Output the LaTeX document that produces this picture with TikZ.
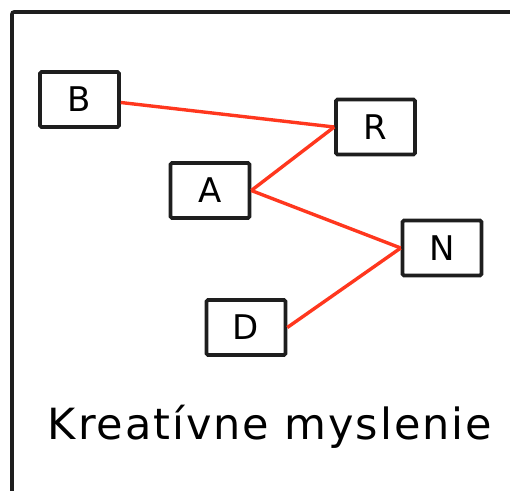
\documentclass[tikz,border=0pt]{standalone}
\usepackage{fontspec}
\setmainfont{DejaVu Sans}
\definecolor{linkred}{RGB}{255,55,30}
\definecolor{frameblack}{RGB}{30,30,30}
\begin{document}
\begin{tikzpicture}[x=1pt,y=-1pt,
  box/.style={draw=frameblack, line width=3.6pt, rounded corners=1.5pt, fill=white,
    minimum width=79pt, minimum height=55pt, inner sep=0pt,
    font=\fontsize{34}{34}\selectfont},
  link/.style={draw=linkred, line width=3.4pt},
  title/.style={font=\fontsize{43}{43}\selectfont\addfontfeature{LetterSpace=4.5}, anchor=base, inner sep=0pt}]
\useasboundingbox (0,0) rectangle (510,490);
\draw[line width=3.6pt, frameblack, rounded corners=2pt] (12,495) -- (12,12) -- (515,12);
\node[box] (B) at (79.5,99.5) {B};
\node[box] (R) at (375.5,127) {R};
\node[box] (A) at (210,190.5) {A};
\node[box] (N) at (442,248) {N};
\node[box] (D) at (246,327.5) {D};
\draw[link] ([yshift=-3pt]B.east) -- (R.west);
\draw[link] (A.east) -- (R.west);
\draw[link] (A.east) -- (N.west);
\draw[link] (D.east) -- (N.west);
\node[title] (T) at (270,439) {Kreatívne myslenie};
\end{tikzpicture}
\end{document}
